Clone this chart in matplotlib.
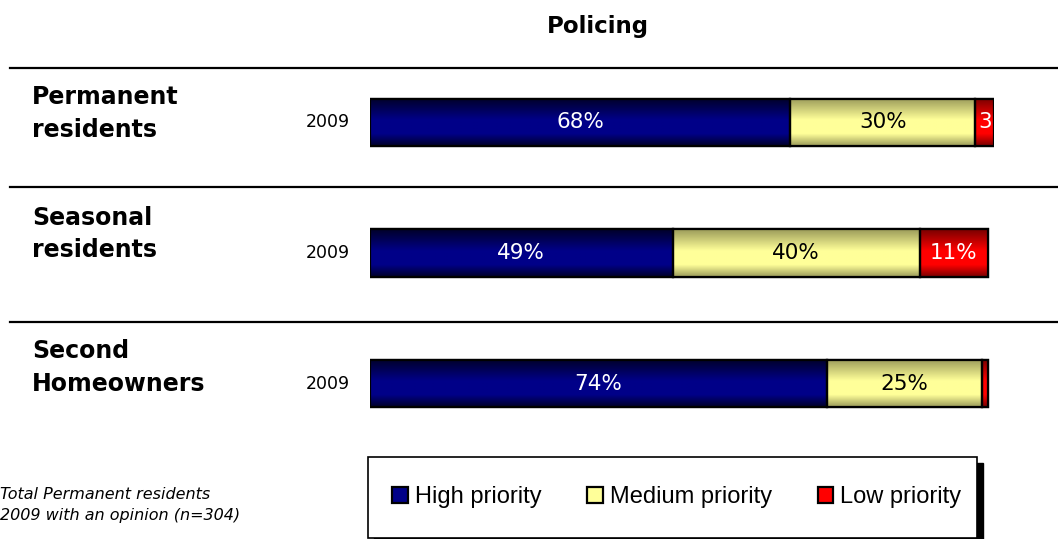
import numpy as np
import matplotlib
matplotlib.use("Agg")
import matplotlib.pyplot as plt
from matplotlib.colors import LinearSegmentedColormap
from matplotlib.patches import Rectangle
from matplotlib.lines import Line2D

# ---- data ----
title = "Policing"
groups = ["Permanent\nresidents", "Seasonal\nresidents", "Second\nHomeowners"]
years = ["2009", "2009", "2009"]
series_names = ["High priority", "Medium priority", "Low priority"]
high = [68, 49, 74]
medium = [30, 40, 25]
low = [3, 11, 1]
footnote = "Total Permanent residents\n2009 with an opinion (n=304)"

W, H = 1058, 539
fig = plt.figure(figsize=(W / 100, H / 100), dpi=100)


def fx(px):
    return px / W


def fy(py):
    return 1 - py / H


ax = fig.add_axes([fx(370), fy(449), 624 / W, 392 / H])

series = [high, medium, low]
mid_colors = ["#000088", "#FFFF99", "#FF0000"]
edge_colors = ["#00002A", "#9C9C5A", "#7A0000"]
text_colors = ["white", "black", "white"]

ypos = np.arange(len(groups))
bar_h = 0.36
left = np.zeros(len(groups))
grad = np.linspace(0, 1, 64).reshape(-1, 1)
containers = []
for vals, mc, ec, tc in zip(series, mid_colors, edge_colors, text_colors):
    cont = ax.barh(ypos, vals, left=left, height=bar_h, color=mc,
                   edgecolor="black", linewidth=1.6, zorder=3)
    containers.append(cont)
    cmap = LinearSegmentedColormap.from_list(
        "g", [(0, ec), (0.45, mc), (0.75, mc), (1, ec)])
    for rect in cont.patches:
        x0 = rect.get_x()
        x1 = x0 + rect.get_width()
        y0 = rect.get_y()
        y1 = y0 + rect.get_height()
        im = ax.imshow(grad, extent=[x0, x1, y1, y0], cmap=cmap,
                       aspect="auto", zorder=3.5, interpolation="bilinear")
        im.set_clip_path(rect)
        ax.add_patch(Rectangle((x0, y0), x1 - x0, y1 - y0, fill=False,
                               edgecolor="black", linewidth=1.6, zorder=4))
    for i, v in enumerate(vals):
        if v >= 5:
            lab = f"{v}%"
        elif v >= 2:
            lab = f"{v}"
        else:
            lab = ""
        if lab:
            ax.text(left[i] + v / 2, ypos[i], lab, ha="center", va="center",
                    color=tc, fontsize=15.5, zorder=5,
                    family="DejaVu Sans")
    left = left + np.array(vals)

ax.set_xlim(0, 101)
ax.set_ylim(len(groups) - 0.5, -0.5)
ax.axis("off")

# separator lines
for py in [68, 187, 322]:
    fig.add_artist(Line2D([fx(10), 1.0], [fy(py), fy(py)],
                          transform=fig.transFigure, color="black", lw=1.6))

# group labels and years
label_offsets = [-9, -19, -16]
for i, (g, yr) in enumerate(zip(groups, years)):
    ydisp = ax.transData.transform((0, ypos[i]))[1]
    yfig = ydisp / H
    fig.text(fx(32), yfig - label_offsets[i] / H, g, ha="left", va="center",
             fontsize=17, fontweight="bold", linespacing=1.45,
             family="DejaVu Sans")
    fig.text(fx(350), yfig, yr, ha="right", va="center", fontsize=12.5,
             family="DejaVu Sans")

# title
fig.text(fx(598), fy(27), title, ha="center", va="center", fontsize=16.5,
         fontweight="bold", family="DejaVu Sans")

# legend box with shadow
fig.add_artist(Rectangle((fx(374), fy(544)), 609 / W, 81 / H,
                         transform=fig.transFigure, facecolor="black",
                         edgecolor="black", zorder=1))
fig.add_artist(Rectangle((fx(368), fy(538)), 609 / W, 81 / H,
                         transform=fig.transFigure, facecolor="white",
                         edgecolor="black", linewidth=1.2, zorder=2))
leg = fig.legend([c.patches[0] for c in containers], series_names,
                 loc="center", bbox_to_anchor=(fx(677), fy(497)), ncol=3,
                 frameon=False, prop={"family": "Liberation Sans", "size": 17},
                 handlelength=0.65, handleheight=0.65, handletextpad=0.3,
                 columnspacing=1.95)
leg.set_zorder(3)

# footnote
fig.text(fx(0), fy(505), footnote, ha="left", va="center", fontsize=11.5,
         style="italic", linespacing=1.5, family="DejaVu Sans")

fig.savefig("out.png", dpi=100)
